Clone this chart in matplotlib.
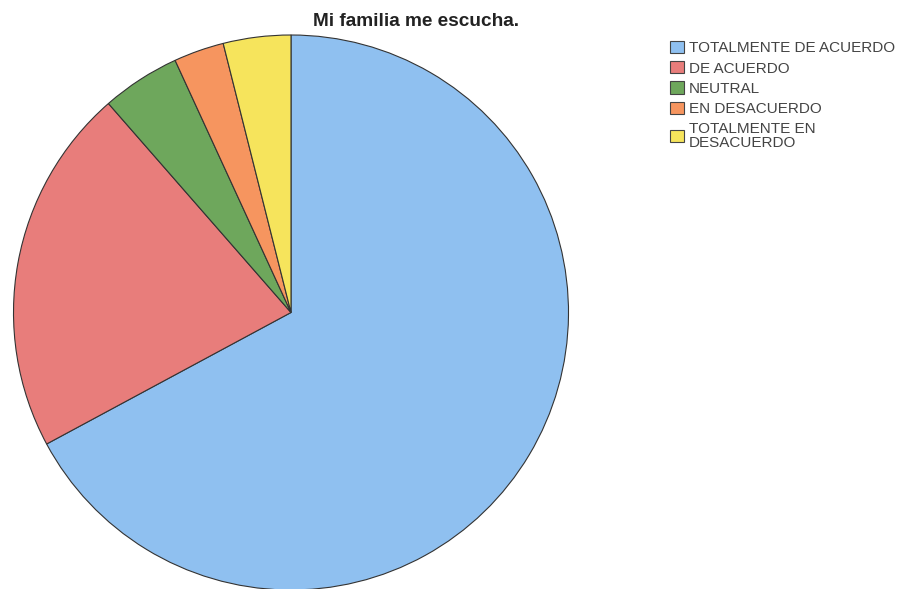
import matplotlib
matplotlib.use("Agg")
import matplotlib.pyplot as plt
from matplotlib.patches import Patch

categories = ["TOTALMENTE DE ACUERDO", "DE ACUERDO", "NEUTRAL", "EN DESACUERDO",
              "TOTALMENTE EN\nDESACUERDO"]
values = [47, 15, 3.2, 2.05, 2.75]
colors = ["#8fc0f0", "#e87d7b", "#6ea75c", "#f6955f", "#f6e45c"]
title = "Mi familia me escucha."

fig = plt.figure(figsize=(9.01, 5.89), dpi=100)
ax = fig.add_axes([13.5/901, (589-590)/589, 555/901, 555/589])
ax.pie(values, colors=colors, startangle=90, counterclock=False, radius=1,
       wedgeprops=dict(edgecolor="#333333", linewidth=0.8))
ax.set_xlim(-1, 1)
ax.set_ylim(-1, 1)
ax.set_aspect("equal")
ax.axis("off")

fig.text(416/901, 1 - 26/589, title, ha="center", va="baseline",
         fontsize=13.7, fontweight="bold", family="Liberation Sans", color="#222222")

handles = [Patch(facecolor=c, edgecolor="#444444", linewidth=0.8) for c in colors]
leg = fig.legend(handles, categories, loc="upper left",
                 bbox_to_anchor=(667/901, 1 - 38/589), frameon=False,
                 prop=dict(family="Liberation Sans", size=11),
                 handlelength=0.9, handleheight=0.85, handletextpad=0.34,
                 labelspacing=0.38, borderpad=0.2, borderaxespad=0)
for t in leg.get_texts():
    t.set_color("#444444")
    t.set_linespacing(1.05)

fig.savefig("out.png", dpi=100)
